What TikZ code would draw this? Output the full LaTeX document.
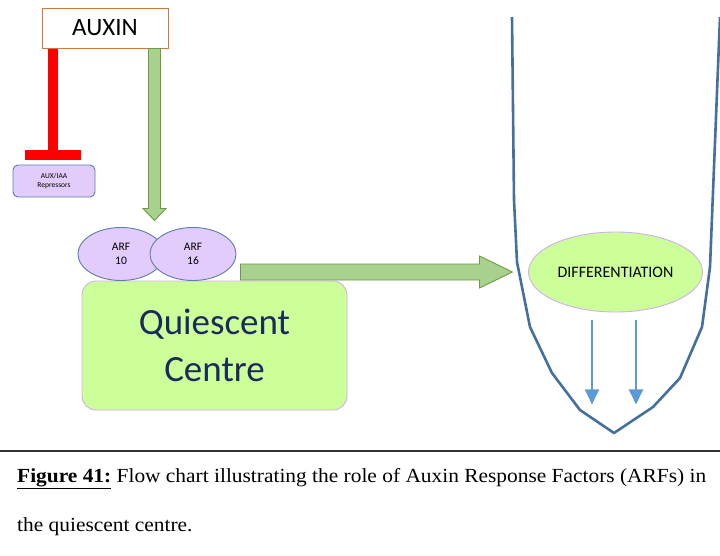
\documentclass[tikz,border=0pt]{standalone}
\usepackage{fontspec}
\setmainfont{Liberation Serif}
\newfontfamily\calfont{Carlito}
\newfontfamily\capfont{Liberation Serif}[FakeStretch=1.07]
\usetikzlibrary{arrows.meta,positioning,calc,shapes.geometric}
\definecolor{auxorange}{HTML}{D07840}
\definecolor{lilac}{HTML}{E2CCFC}
\definecolor{slateline}{HTML}{5B7DA8}
\definecolor{limefill}{HTML}{CCFF99}
\definecolor{lilacline}{HTML}{D2AEEA}
\definecolor{leafgreen}{HTML}{A9D18E}
\definecolor{leafline}{HTML}{6E9A45}
\definecolor{rootblue}{HTML}{44709E}
\definecolor{skyblue}{HTML}{5B9BD5}
\definecolor{navytext}{HTML}{1B2A5C}
\tikzset{
  box/.style={draw, align=center, inner sep=0pt},
  signal/.style={box, draw=auxorange, fill=white, line width=1pt, font=\calfont\fontsize{25}{28}\selectfont},
  prot/.style={box, draw=slateline, fill=lilac, line width=0.9pt},
  arf/.style={prot, ellipse, minimum width=86pt, minimum height=53pt, font=\calfont\fontsize{11.5}{14.5}\selectfont},
  zone/.style={box, draw=lilacline, fill=limefill, line width=0.9pt},
  blockarr/.style={fill=leafgreen, draw=leafline, line width=0.9pt, line join=miter},
  inhib/.style={fill=red, draw=none},
  flow/.style={skyblue, line width=2pt, -{Triangle[length=15pt, width=14pt]}},
  caption/.style={anchor=base west, inner sep=0pt, font=\capfont\fontsize{20}{24}\selectfont}}

\begin{document}
\begin{tikzpicture}[x=1pt, y=-1pt]
  \useasboundingbox (0,0) rectangle (720,555);
  % signal and repressors
  \node[signal, minimum width=126pt, minimum height=40pt] (auxin) at (105,28) {AUXIN};
  \node[prot, rounded corners=5pt, minimum width=82pt, minimum height=32pt,
        font=\calfont\fontsize{7.5}{9}\selectfont] (repr) at (54,181) {AUX/IAA\\Repressors};
  \fill[inhib] ($(auxin.south west)+(6,0)$) rectangle ($(auxin.south west)+(16,103)$);
  \fill[inhib] ($(repr.north west)+(12,-15)$) rectangle ($(repr.north east)+(-14,-5)$);
  % ARFs on the quiescent centre
  \node[zone, rounded corners=14pt, minimum width=265pt, minimum height=129pt,
        text=navytext, font=\calfont\fontsize{37}{47}\selectfont] (qc) at (214.5,345.5) {Quiescent\\Centre};
  \node[arf] (arf10) at (121,254) {ARF\\10};
  \node[arf] (arf16) at (193,254) {ARF\\16};
  % auxin activates ARFs
  \coordinate (dtop) at ($(auxin.south east)+(-14,0)$);
  \draw[blockarr] ($(dtop)+(-6,0)$) -- ($(dtop)+(-6,160)$) -- ($(dtop)+(-11.5,160)$)
    -- ($(dtop)+(0,172)$) -- ($(dtop)+(11.5,160)$) -- ($(dtop)+(6,160)$) -- ($(dtop)+(6,0)$) -- cycle;
  % root tip
  \draw[rootblue, line width=2.6pt, line join=round]
    (512,17) -- (514,200) -- (517,262) -- (530,327) -- (552,373) -- (580,410) -- (614,433)
    -- (653,407) -- (680,378) -- (702,327) -- (710,267) -- (720,17);
  \node[zone, ellipse, minimum width=174pt, minimum height=80pt,
        font=\calfont\fontsize{16}{18}\selectfont] (diff) at (615.5,272) {DIFFERENTIATION};
  % QC signals to differentiation zone
  \coordinate (rtail) at ($(arf16.east)+(4,18)$);
  \draw[blockarr] ($(rtail)+(0,-8)$) -- ($(rtail)+(239,-8)$) -- ($(rtail)+(239,-16)$)
    -- ($(rtail)+(272,0)$) -- ($(rtail)+(239,16)$) -- ($(rtail)+(239,8)$) -- ($(rtail)+(0,8)$) -- cycle;
  \draw[flow] ($(diff.south)+(-23.5,8)$) -- ($(diff.south)+(-23.5,92)$);
  \draw[flow] ($(diff.south)+(20.5,8)$) -- ($(diff.south)+(20.5,92)$);
  % caption
  \draw[gray!40!black, line width=1.4pt] (0,451) -- (720,451);
  \node[caption] (cap1) at (17,482) {\underline{\textbf{Figure 41:}} Flow chart illustrating the role of Auxin Response Factors (ARFs) in};
  \node[caption] (cap2) at (17,531) {the quiescent centre.};
\end{tikzpicture}
\end{document}
